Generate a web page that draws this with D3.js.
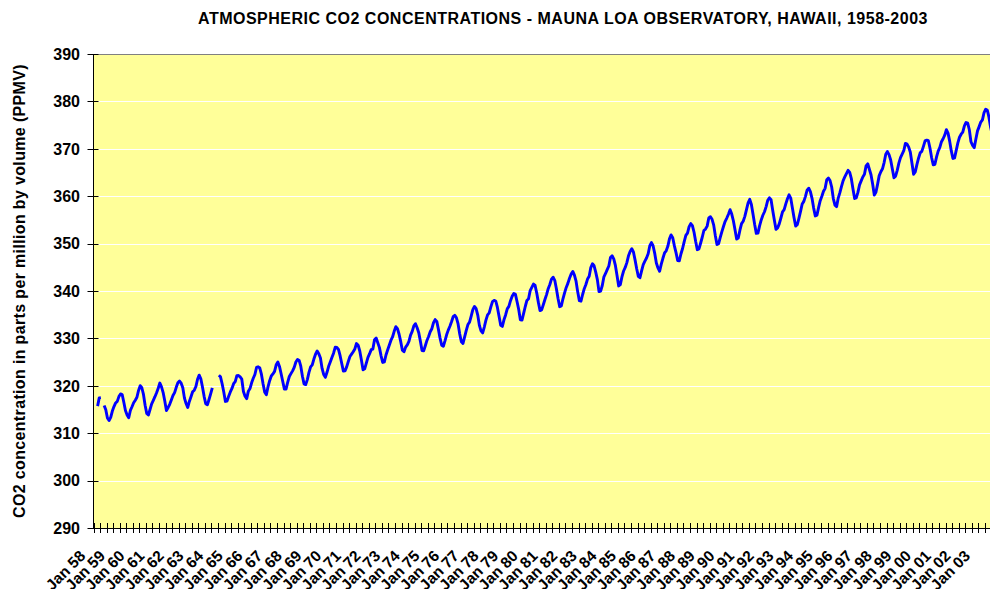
<!DOCTYPE html>
<html>
<head>
<meta charset="utf-8">
<script src="https://cdn.jsdelivr.net/npm/d3@7"></script>
<style>
body { margin: 0; background: #fff; }
svg { display: block; font-family: "Liberation Sans", Arial, sans-serif; font-weight: bold; }
</style>
</head>
<body>
<div class="chart"></div>
<script>
const firstYear = 1958
const lastYear = 2003
const monthNames = ["Jan","Feb","Mar","Apr","May","Jun","Jul","Aug","Sep","Oct","Nov","Dec"]
const yTicks = [290, 300, 310, 320, 330, 340, 350, 360, 370, 380, 390]

// monthly means in ppmv, one row per year, null = no measurement
const co2 = [
  null, null, 315.71, 317.45, 317.50, null, 315.86, 314.93, 313.20, 312.66, 313.33, 314.67,
  315.62, 316.38, 316.71, 317.72, 318.29, 318.15, 316.54, 314.80, 313.84, 313.26, 314.80, 315.58,
  316.43, 316.97, 317.58, 319.02, 320.03, 319.59, 318.18, 315.91, 314.16, 313.83, 315.00, 316.19,
  316.93, 317.70, 318.54, 319.48, 320.58, 319.77, 318.57, 316.79, 314.80, 315.38, 316.10, 317.01,
  317.94, 318.56, 319.68, 320.63, 321.01, 320.55, 319.58, 317.40, 316.26, 315.42, 316.69, 317.69,
  318.74, 319.08, 319.86, 321.39, 322.25, 321.47, 319.74, 317.77, 316.21, 315.99, 317.12, 318.31,
  319.57, null, null, null, 322.23, 321.89, 320.44, 318.70, 316.70, 316.79, 317.79, 318.71,
  319.44, 320.44, 320.89, 322.13, 322.16, 321.87, 321.39, 318.81, 317.81, 317.30, 318.87, 319.42,
  320.62, 321.59, 322.39, 323.87, 324.01, 323.75, 322.39, 320.37, 318.64, 318.10, 319.79, 321.08,
  322.07, 322.50, 323.04, 324.42, 325.00, 324.09, 322.55, 320.92, 319.31, 319.31, 320.72, 321.96,
  322.57, 323.15, 323.89, 325.02, 325.57, 325.36, 324.14, 322.03, 320.41, 320.25, 321.31, 322.84,
  324.00, 324.42, 325.64, 326.66, 327.34, 326.76, 325.88, 323.67, 322.38, 321.78, 322.85, 324.12,
  325.03, 325.99, 326.87, 328.13, 328.07, 327.66, 326.35, 324.69, 323.10, 323.16, 323.98, 325.13,
  326.17, 326.68, 327.18, 327.78, 328.92, 328.57, 327.34, 325.46, 323.36, 323.57, 324.80, 326.01,
  326.77, 327.63, 327.75, 329.72, 330.07, 329.09, 328.05, 326.32, 324.93, 325.06, 326.50, 327.55,
  328.54, 329.56, 330.30, 331.50, 332.48, 332.07, 330.87, 329.31, 327.51, 327.18, 328.16, 328.64,
  329.35, 330.71, 331.48, 332.65, 333.09, 332.25, 331.18, 329.40, 327.43, 327.37, 328.46, 329.57,
  330.40, 331.40, 332.04, 333.31, 333.96, 333.59, 331.91, 330.06, 328.56, 328.34, 329.49, 330.76,
  331.75, 332.56, 333.50, 334.58, 334.87, 334.34, 333.05, 330.94, 329.30, 328.94, 330.31, 331.68,
  332.93, 333.42, 334.70, 336.07, 336.74, 336.27, 334.93, 332.75, 331.58, 331.16, 332.40, 333.85,
  334.97, 335.39, 336.64, 337.76, 338.01, 337.89, 336.54, 334.68, 332.76, 332.54, 333.92, 334.95,
  336.23, 336.76, 337.96, 338.89, 339.47, 339.29, 337.73, 336.09, 333.91, 333.86, 335.29, 336.73,
  338.01, 338.36, 340.08, 340.77, 341.46, 341.17, 339.56, 337.60, 335.88, 336.01, 337.10, 338.21,
  339.24, 340.48, 341.38, 342.51, 342.91, 342.25, 340.49, 338.43, 336.69, 336.85, 338.36, 339.61,
  340.75, 341.61, 342.70, 343.56, 344.13, 343.35, 342.06, 339.82, 337.97, 337.86, 339.26, 340.49,
  341.38, 342.52, 343.10, 344.94, 345.75, 345.32, 343.99, 342.39, 339.86, 339.99, 341.16, 342.99,
  343.70, 344.51, 345.28, 347.08, 347.43, 346.79, 345.40, 343.28, 341.07, 341.35, 342.98, 344.22,
  344.97, 345.99, 347.42, 348.35, 348.93, 348.25, 346.56, 344.69, 343.09, 342.80, 344.24, 345.56,
  346.29, 346.96, 347.86, 349.55, 350.21, 349.54, 347.94, 345.91, 344.86, 344.17, 345.66, 346.90,
  348.02, 348.47, 349.42, 350.99, 351.84, 351.25, 349.52, 348.10, 346.44, 346.36, 347.81, 348.96,
  350.43, 351.72, 352.22, 353.59, 354.22, 353.79, 352.39, 350.44, 348.72, 348.88, 350.07, 351.34,
  352.76, 353.07, 353.68, 355.42, 355.67, 355.13, 353.90, 351.67, 349.80, 349.99, 351.30, 352.53,
  353.66, 354.70, 355.39, 356.20, 357.16, 356.22, 354.82, 352.91, 350.96, 351.18, 352.83, 354.21,
  354.72, 355.75, 357.16, 358.60, 359.34, 358.24, 356.17, 354.03, 352.16, 352.21, 353.75, 354.99,
  355.98, 356.72, 357.81, 359.15, 359.66, 359.25, 357.03, 355.00, 353.01, 353.31, 354.16, 355.40,
  356.70, 357.16, 358.38, 359.46, 360.28, 359.60, 357.57, 355.52, 353.70, 353.98, 355.33, 356.80,
  358.36, 358.91, 359.97, 361.26, 361.68, 360.95, 359.55, 357.49, 355.84, 356.00, 357.59, 359.05,
  359.98, 361.03, 361.66, 363.48, 363.82, 363.30, 361.94, 359.50, 358.11, 357.80, 359.61, 360.74,
  362.09, 363.29, 364.06, 364.76, 365.45, 365.01, 363.70, 361.54, 359.51, 359.65, 360.80, 362.38,
  363.23, 364.06, 364.61, 366.40, 366.84, 365.68, 364.52, 362.57, 360.24, 360.83, 362.49, 364.34,
  365.17, 365.78, 367.10, 368.86, 369.41, 368.78, 367.64, 365.77, 363.90, 364.23, 365.46, 366.97,
  368.15, 368.87, 369.59, 371.14, 371.00, 370.35, 369.27, 366.94, 364.63, 365.12, 366.67, 368.01,
  369.14, 369.46, 370.52, 371.66, 371.82, 371.70, 370.12, 368.12, 366.62, 366.73, 368.29, 369.53,
  370.28, 371.50, 372.12, 372.87, 374.02, 373.30, 371.62, 369.55, 367.96, 368.09, 369.68, 371.24,
  372.44, 373.08, 373.52, 374.85, 375.55, 375.40, 374.02, 371.49, 370.71, 370.25, 372.08, 373.78,
  374.68, 375.63, 376.11, 377.65, 378.35, 378.13, 376.62, 374.50, 372.99, 373.00, 374.35, 375.70
]

const W = 990, H = 589
// the plot runs a little past the right edge of the picture, as in the original
const plot = {left: 93.5, top: 54, right: 998, bottom: 528}

// category labels like "Jan 58"
const categories = []
for (let yr = firstYear; yr <= lastYear; yr++) {
    monthNames.forEach(m => categories.push(m + " " + String(yr).slice(2)))
}
const data = categories.map((c, i) => ({cat: c, value: co2[i]}))

const svg = d3.select(".chart").append("svg")
    .attr("width", W)
    .attr("height", H)

const xScale = d3.scaleBand()
    .domain(categories)
    .range([plot.left, plot.right])

const yScale = d3.scaleLinear()
    .domain([290, 390])
    .range([plot.bottom, plot.top])

// plot area
svg.append("rect")
    .attr("x", plot.left)
    .attr("y", plot.top)
    .attr("width", plot.right - plot.left)
    .attr("height", plot.bottom - plot.top)
    .attr("fill", "#ffff99")

svg.append("g")
    .selectAll("line")
    .data(yTicks.filter(d => d > 290 && d < 390))
    .join("line")
        .attr("x1", plot.left)
        .attr("x2", plot.right)
        .attr("y1", d => Math.round(yScale(d)) + 0.5)
        .attr("y2", d => Math.round(yScale(d)) + 0.5)
        .attr("stroke", "#ffffff")
        .attr("stroke-width", 1)

svg.append("line")
    .attr("x1", plot.left).attr("x2", plot.right)
    .attr("y1", plot.top + 0.5).attr("y2", plot.top + 0.5)
    .attr("stroke", "#808080")

// CO2 line
const line = d3.line()
    .defined(d => d.value != null)
    .x(d => xScale(d.cat) + xScale.bandwidth() / 2)
    .y(d => yScale(d.value))

svg.append("path")
    .datum(data)
    .attr("d", line)
    .attr("fill", "none")
    .attr("stroke", "#0000ff")
    .attr("stroke-width", 2.9)
    .attr("stroke-linejoin", "round")

// y axis
const yAxis = svg.append("g")
yAxis.append("line")
    .attr("x1", plot.left).attr("x2", plot.left)
    .attr("y1", plot.top).attr("y2", plot.bottom)
    .attr("stroke", "#000")
yAxis.selectAll(".tick")
    .data(yTicks)
    .join("line")
        .attr("x1", plot.left - 6)
        .attr("x2", plot.left + 5)
        .attr("y1", d => Math.round(yScale(d)) + 0.5)
        .attr("y2", d => Math.round(yScale(d)) + 0.5)
        .attr("stroke", "#000")
yAxis.selectAll("text")
    .data(yTicks)
    .join("text")
        .attr("x", 80)
        .attr("y", d => yScale(d))
        .attr("dy", "0.36em")
        .attr("text-anchor", "end")
        .attr("font-size", 16)
        .text(d => d)

// x axis: cross ticks every 4 months, labels every January
const xAxis = svg.append("g")
xAxis.append("line")
    .attr("x1", plot.left).attr("x2", plot.right)
    .attr("y1", plot.bottom + 0.5).attr("y2", plot.bottom + 0.5)
    .attr("stroke", "#000")
xAxis.selectAll(".tick")
    .data(categories.filter((c, i) => i % 4 === 0))
    .join("line")
        .attr("x1", d => Math.round(xScale(d)) + 0.5)
        .attr("x2", d => Math.round(xScale(d)) + 0.5)
        .attr("y1", plot.bottom - 5)
        .attr("y2", plot.bottom + 5)
        .attr("stroke", "#000")
xAxis.selectAll("text")
    .data(categories.filter(c => c.startsWith("Jan")))
    .join("text")
        .attr("transform", d => `translate(${xScale(d) + xScale.bandwidth() / 2 - 8},557) rotate(-45)`)
        .attr("text-anchor", "end")
        .attr("font-size", 15.5)
        .text(d => d)

// titles
svg.append("text")
    .attr("x", 563)
    .attr("y", 24)
    .attr("text-anchor", "middle")
    .attr("font-size", 16)
    .attr("letter-spacing", 0.5)
    .text("ATMOSPHERIC CO2 CONCENTRATIONS - MAUNA LOA OBSERVATORY, HAWAII, 1958-2003")

svg.append("text")
    .attr("transform", "translate(25,291) rotate(-90)")
    .attr("text-anchor", "middle")
    .attr("font-size", 16)
    .attr("letter-spacing", 0.35)
    .text("CO2 concentration in parts per million by volume (PPMV)")
</script>
</body>
</html>
